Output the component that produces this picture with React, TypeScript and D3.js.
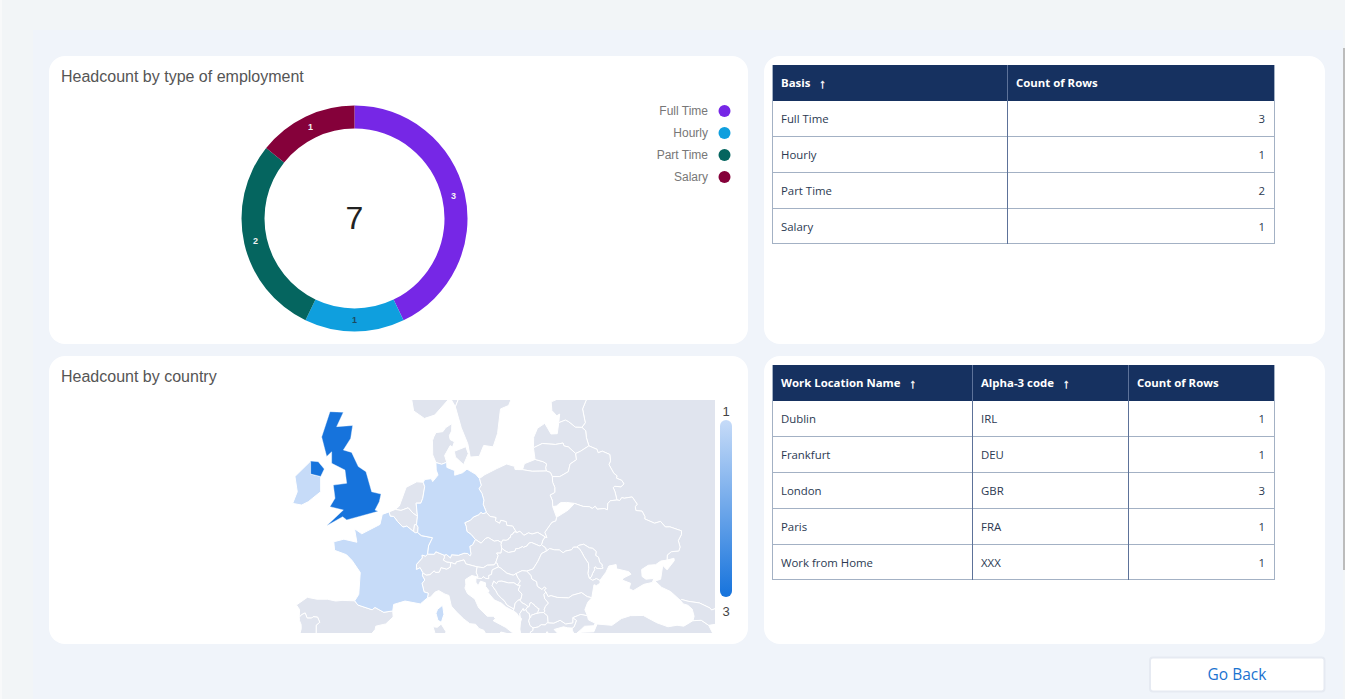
import * as d3 from "d3";
import React from "react";

type LonLat = [number, number];

// employment
const basisNames = ["Full Time", "Hourly", "Part Time", "Salary"];
const basisCounts = [3, 1, 2, 1];
const basisColors = ["#7627e6", "#0f9fde", "#05655f", "#85013a"];
const totalCount = 7;

// locations table
const locationNames = ["Dublin", "Frankfurt", "London", "Paris", "Work from Home"];
const locationCodes = ["IRL", "DEU", "GBR", "FRA", "XXX"];
const locationCounts = [1, 1, 3, 1, 1];

// headcount shown on the map, ISO code -> value
const countryHeadcount: Record<string, number> = { IRL: 1, DEU: 1, GBR: 3, FRA: 1 };
const legendTicks = [1, 3];

// country outlines, lon/lat
const gbrIsland: LonLat[] = [[-5.08,58.54],[-3.36,58.5],[-4.22,57.52],[-2.16,57.6],[-2.42,56.7],[-3.36,55.87],[-2.29,55.7],[-1.44,54.66],[-0.45,54.28],[0.28,52.74],[1.48,52.57],[1.26,51.96],[0.71,51.3],[1.13,51.2],[-2.93,50.5],[-3.45,50.76],[-5.5,50.02],[-3.36,51.3],[-5.08,51.57],[-4.43,52.24],[-4.65,53.26],[-2.93,53.4],[-3.15,54.4],[-4.86,54.9],[-4.86,55.74],[-5.5,55.4],[-6.15,56.8]];
const gbrNorthernIreland: LonLat[] = [[-7.56,55.07],[-6.58,55.02],[-5.81,54.48],[-6.27,53.92],[-7.56,54.1]];
const irl: LonLat[] = [[-9.58,53.92],[-7.65,55.02],[-7.56,55.07],[-7.56,54.1],[-6.27,53.92],[-6.27,52.75],[-7.87,51.96],[-8.72,51.7],[-9.87,51.83],[-9.28,52.75]];
const fra: LonLat[] = [[3.59,50.38],[4.29,49.91],[4.8,49.99],[5.67,49.53],[5.9,49.44],[6.19,49.46],[6.66,49.2],[8.1,49.02],[7.59,48.33],[7.47,47.62],[7.19,47.45],[6.74,47.54],[6.77,47.29],[6.04,46.73],[6.02,46.27],[6.5,46.43],[6.84,45.99],[6.8,45.71],[7.1,45.33],[6.75,45.03],[7.01,44.25],[7.55,44.13],[7.44,43.69],[6.53,43.13],[4.56,43.4],[3.1,43.08],[2.99,42.47],[1.83,42.34],[0.7,42.8],[0.34,42.58],[-1.5,43.03],[-1.9,43.42],[-1.38,44.02],[-1.19,46.01],[-2.23,47.06],[-2.96,47.57],[-4.49,47.95],[-4.59,48.68],[-3.3,48.9],[-1.62,48.64],[-1.93,49.78],[-0.99,49.35],[1.34,50.13],[1.64,50.95],[2.51,51.15],[2.66,50.8],[3.12,50.78]];
const fraCorsica: LonLat[] = [[9.56,42.15],[9.23,41.38],[8.78,41.58],[8.54,42.26],[8.75,42.63],[9.39,43.01]];
const deu: LonLat[] = [[9.92,54.98],[9.94,54.6],[10.95,54.36],[10.94,54.01],[11.96,54.2],[12.52,54.47],[13.65,54.08],[14.12,53.76],[14.35,53.25],[14.07,52.98],[14.44,52.62],[14.69,52.09],[14.61,51.75],[15.02,51.11],[14.57,51],[14.31,51.12],[14.06,50.93],[13.34,50.73],[12.97,50.48],[12.24,50.27],[12.42,49.97],[12.52,49.55],[13.03,49.31],[13.6,48.88],[13.24,48.42],[12.88,48.29],[13.03,47.64],[12.93,47.47],[12.62,47.67],[12.14,47.7],[11.43,47.52],[10.54,47.57],[10.4,47.3],[9.9,47.58],[9.59,47.53],[8.52,47.83],[8.32,47.61],[7.47,47.62],[7.59,48.33],[8.1,49.02],[6.66,49.2],[6.19,49.46],[6.24,49.9],[6.04,50.13],[6.16,50.8],[5.99,51.85],[6.59,51.85],[6.84,52.23],[7.09,53.14],[6.91,53.48],[7.1,53.69],[7.94,53.75],[8.12,53.53],[8.8,54.02],[8.57,54.4],[8.53,54.96],[9.28,54.83]];
const nld: LonLat[] = [[6.07,53.51],[6.91,53.48],[7.09,53.14],[6.84,52.23],[6.59,51.85],[5.99,51.85],[6.16,50.8],[5.61,51.04],[4.97,51.48],[4.05,51.27],[3.31,51.35],[3.83,51.62],[4.71,53.09]];
const bel: LonLat[] = [[3.31,51.35],[4.05,51.27],[4.97,51.48],[5.61,51.04],[6.16,50.8],[6.04,50.13],[5.78,50.09],[5.67,49.53],[4.8,49.99],[4.29,49.91],[3.59,50.38],[3.12,50.78],[2.66,50.8],[2.51,51.15]];
const lux: LonLat[] = [[6.04,50.13],[6.24,49.9],[6.19,49.46],[5.9,49.44],[5.67,49.53],[5.78,50.09]];
const che: LonLat[] = [[9.59,47.53],[9.63,47.35],[9.48,47.1],[9.93,46.92],[10.44,46.89],[10.36,46.48],[9.92,46.31],[9.18,46.44],[8.97,46.04],[8.49,46.01],[8.32,46.16],[7.76,45.82],[7.27,45.78],[6.84,45.99],[6.5,46.43],[6.02,46.27],[6.04,46.73],[6.77,47.29],[6.74,47.54],[7.19,47.45],[7.47,47.62],[8.32,47.61],[8.52,47.83]];
const ita: LonLat[] = [[12.38,46.77],[13.81,46.51],[13.7,46.02],[13.94,45.59],[13.14,45.74],[12.33,45.38],[12.38,44.89],[12.26,44.6],[12.59,44.09],[13.53,43.59],[14.03,42.76],[15.14,41.96],[15.93,41.96],[16.17,41.74],[15.89,41.54],[16.79,41.18],[17.52,40.88],[18.38,40.36],[18.48,40.17],[18.29,39.81],[17.74,40.28],[16.87,40.44],[16.45,39.8],[17.17,39.42],[17.05,38.9],[16.64,38.84],[16.1,37.99],[15.68,37.91],[15.69,38.21],[15.89,38.75],[16.11,38.96],[15.72,39.54],[15.41,40.05],[15,40.17],[14.7,40.6],[14.06,40.79],[13.63,41.19],[12.89,41.25],[12.11,41.7],[11.19,42.36],[10.51,42.93],[10.2,43.92],[9.7,44.04],[8.89,44.37],[8.43,44.23],[7.85,43.77],[7.44,43.69],[7.55,44.13],[7.01,44.25],[6.75,45.03],[7.1,45.33],[6.8,45.71],[6.84,45.99],[7.27,45.78],[7.76,45.82],[8.32,46.16],[8.49,46.01],[8.97,46.04],[9.18,46.44],[9.92,46.31],[10.36,46.48],[10.44,46.89],[11.05,46.75],[11.16,46.94],[12.15,47.12]];
const itaSardinia: LonLat[] = [[9.21,41.21],[9.81,40.5],[9.67,39.18],[9.21,39.24],[8.81,38.91],[8.43,39.17],[8.39,40.38],[8.16,40.95],[8.71,40.9]];
const esp: LonLat[] = [[-9.03,41.88],[-8.98,42.59],[-9.39,43.03],[-7.98,43.75],[-6.75,43.57],[-5.41,43.57],[-4.35,43.4],[-3.52,43.46],[-1.9,43.42],[-1.5,43.03],[0.34,42.58],[0.7,42.8],[1.83,42.34],[2.99,42.47],[3.04,41.89],[2.09,41.23],[0.81,41.01],[0.72,40.68],[0.11,40.12],[-0.28,39.31],[0.11,38.74],[-0.47,38.29],[-0.68,37.64],[-1.44,37.44],[-2.15,36.67],[-3.42,36.66],[-4.37,36.68],[-5,36.32],[-5.38,35.95],[-5.87,36.03],[-6.24,36.37],[-6.52,36.94],[-7.45,37.1],[-7.54,37.43],[-7.17,37.8],[-7.03,38.08],[-7.37,38.37],[-7.1,39.03],[-7.5,39.63],[-7.07,39.71],[-7.03,40.18],[-6.86,40.33],[-6.85,41.11],[-6.39,41.38],[-6.67,41.88],[-7.25,41.92],[-7.42,41.79],[-8.01,41.79],[-8.26,42.28],[-8.67,42.13]];
const prt: LonLat[] = [[-9.03,41.88],[-8.67,42.13],[-8.26,42.28],[-8.01,41.79],[-7.42,41.79],[-7.25,41.92],[-6.67,41.88],[-6.39,41.38],[-6.85,41.11],[-6.86,40.33],[-7.03,40.18],[-7.07,39.71],[-7.5,39.63],[-7.1,39.03],[-7.37,38.37],[-7.03,38.08],[-7.17,37.8],[-7.54,37.43],[-7.45,37.1],[-7.86,36.84],[-8.38,36.98],[-8.9,36.87],[-8.75,37.65],[-8.84,38.27],[-9.29,38.36],[-9.53,38.74],[-9.45,39.39],[-9.05,39.76],[-8.98,40.16],[-8.77,40.76],[-8.79,41.18],[-8.99,41.54]];
const dnkZealand: LonLat[] = [[12.69,55.61],[12.09,54.8],[11.04,55.36],[10.9,55.78],[12.37,56.11]];
const dnkJutland: LonLat[] = [[10.91,56.46],[10.67,56.08],[10.37,56.19],[9.65,55.47],[9.92,54.98],[9.28,54.83],[8.53,54.96],[8.12,55.52],[8.09,56.54],[8.26,56.81],[8.54,57.11],[9.42,57.17],[9.78,57.45],[10.58,57.73],[10.55,57.22],[10.25,56.89],[10.37,56.61]];
const swe: LonLat[] = [[11.03,58.86],[11.47,59.43],[12.3,60.12],[12.63,61.29],[11.99,61.8],[20,63],[17.85,62.75],[17.12,61.34],[17.83,60.64],[18.79,60.08],[17.87,58.95],[16.83,58.72],[16.45,57.04],[15.88,56.1],[14.67,56.2],[14.1,55.41],[12.94,55.36],[12.63,56.31],[11.79,57.44]];
const nor: LonLat[] = [[11.03,58.86],[10.36,59.47],[8.38,58.31],[7.05,58.08],[5.67,58.59],[5.31,59.66],[4.99,61.97],[8,63.5],[11.93,63.13],[11.99,61.8],[12.63,61.29],[12.3,60.12],[11.47,59.43]];
const pol: LonLat[] = [[15.02,51.11],[14.61,51.75],[14.69,52.09],[14.44,52.62],[14.07,52.98],[14.35,53.25],[14.12,53.76],[14.8,54.05],[16.36,54.51],[17.62,54.85],[18.62,54.68],[18.7,54.44],[19.66,54.43],[20.89,54.31],[22.73,54.33],[23.24,54.22],[23.48,53.91],[23.53,53.47],[23.8,53.09],[23.8,52.69],[23.2,52.49],[23.51,52.02],[23.53,51.58],[24.03,50.71],[23.92,50.42],[23.43,50.31],[22.52,49.48],[22.78,49.03],[22.56,49.09],[21.61,49.47],[20.89,49.33],[20.42,49.43],[19.83,49.22],[19.32,49.57],[18.91,49.44],[18.85,49.5],[18.39,49.99],[17.65,50.05],[17.55,50.36],[16.87,50.47],[16.72,50.22],[16.18,50.42],[16.24,50.7],[15.49,50.78]];
const cze: LonLat[] = [[15.02,51.11],[15.49,50.78],[16.24,50.7],[16.18,50.42],[16.72,50.22],[16.87,50.47],[17.55,50.36],[17.65,50.05],[18.39,49.99],[18.85,49.5],[18.55,49.5],[18.4,49.32],[18.17,49.27],[18.1,49.04],[17.91,49],[17.89,48.9],[17.55,48.8],[17.1,48.82],[16.96,48.6],[16.5,48.79],[16.03,48.73],[15.25,49.04],[14.9,48.96],[14.34,48.56],[13.6,48.88],[13.03,49.31],[12.52,49.55],[12.42,49.97],[12.24,50.27],[12.97,50.48],[13.34,50.73],[14.06,50.93],[14.31,51.12],[14.57,51]];
const svk: LonLat[] = [[18.85,49.5],[18.91,49.44],[19.32,49.57],[19.83,49.22],[20.42,49.43],[20.89,49.33],[21.61,49.47],[22.56,49.09],[22.28,48.83],[22.09,48.42],[21.87,48.32],[20.8,48.62],[20.47,48.56],[20.24,48.33],[19.77,48.2],[19.66,48.27],[19.17,48.11],[18.78,48.08],[18.7,47.88],[17.86,47.76],[17.49,47.87],[16.98,48.12],[16.88,48.47],[16.96,48.6],[17.1,48.82],[17.55,48.8],[17.89,48.9],[17.91,49],[18.1,49.04],[18.17,49.27],[18.4,49.32],[18.55,49.5]];
const aut: LonLat[] = [[16.98,48.12],[16.9,47.71],[16.34,47.71],[16.53,47.5],[16.2,46.85],[16.01,46.68],[15.14,46.66],[14.63,46.43],[13.81,46.51],[12.38,46.77],[12.15,47.12],[11.16,46.94],[11.05,46.75],[10.44,46.89],[9.93,46.92],[9.48,47.1],[9.63,47.35],[9.59,47.53],[9.9,47.58],[10.4,47.3],[10.54,47.57],[11.43,47.52],[12.14,47.7],[12.62,47.67],[12.93,47.47],[13.03,47.64],[12.88,48.29],[13.24,48.42],[13.6,48.88],[14.34,48.56],[14.9,48.96],[15.25,49.04],[16.03,48.73],[16.5,48.79],[16.96,48.6],[16.88,48.47]];
const hun: LonLat[] = [[16.2,46.85],[16.53,47.5],[16.34,47.71],[16.9,47.71],[16.98,48.12],[17.49,47.87],[17.86,47.76],[18.7,47.88],[18.78,48.08],[19.17,48.11],[19.66,48.27],[19.77,48.2],[20.24,48.33],[20.47,48.56],[20.8,48.62],[21.87,48.32],[22.09,48.42],[22.64,48.15],[22.71,47.88],[22.1,47.67],[21.63,46.99],[21.02,46.32],[20.22,46.13],[19.6,46.17],[18.83,45.91],[18.46,45.76],[17.63,45.95],[16.88,46.38],[16.56,46.5],[16.37,46.84]];
const svn: LonLat[] = [[13.81,46.51],[14.63,46.43],[15.14,46.66],[16.01,46.68],[16.2,46.85],[16.37,46.84],[16.56,46.5],[15.77,46.24],[15.67,45.83],[15.32,45.73],[15.33,45.45],[14.94,45.47],[14.6,45.63],[14.41,45.47],[13.72,45.5],[13.94,45.59],[13.7,46.02]];
const hrv: LonLat[] = [[18.83,45.91],[19.07,45.52],[19.39,45.24],[19.01,44.86],[18.55,45.08],[17.86,45.07],[17,45.23],[16.53,45.21],[16.32,45],[15.96,45.23],[15.75,44.82],[16.24,44.35],[16.46,44.04],[16.92,43.67],[17.3,43.45],[17.67,43.03],[18.56,42.65],[18.45,42.48],[17.51,42.85],[16.93,43.21],[16.02,43.51],[15.17,44.24],[15.38,44.32],[14.92,44.74],[14.9,45.08],[14.26,45.23],[13.95,44.8],[13.66,45.14],[13.68,45.48],[13.72,45.5],[14.41,45.47],[14.6,45.63],[14.94,45.47],[15.33,45.45],[15.32,45.73],[15.67,45.83],[15.77,46.24],[16.56,46.5],[16.88,46.38],[17.63,45.95],[18.46,45.76]];
const bih: LonLat[] = [[19.01,44.86],[19.37,44.86],[19.12,44.42],[19.6,44.04],[19.45,43.57],[19.22,43.52],[19.03,43.43],[18.71,43.2],[18.56,42.65],[17.67,43.03],[17.3,43.45],[16.92,43.67],[16.46,44.04],[16.24,44.35],[15.75,44.82],[15.96,45.23],[16.32,45],[16.53,45.21],[17,45.23],[17.86,45.07],[18.55,45.08]];
const srb: LonLat[] = [[20.87,45.42],[21.48,45.18],[21.56,44.77],[22.15,44.48],[22.46,44.7],[22.71,44.58],[22.47,44.41],[22.66,44.23],[22.41,44.01],[22.5,43.64],[22.99,43.21],[22.6,42.9],[22.44,42.58],[22.55,42.46],[22.38,42.32],[21.92,42.3],[21.58,42.25],[21.54,42.32],[21.66,42.44],[21.78,42.68],[21.63,42.68],[21.44,42.86],[21.27,42.91],[21.14,43.07],[20.96,43.13],[20.81,43.27],[20.64,43.22],[20.5,42.88],[20.26,42.81],[20.34,42.9],[19.96,43.11],[19.63,43.21],[19.48,43.35],[19.22,43.52],[19.45,43.57],[19.6,44.04],[19.12,44.42],[19.37,44.86],[19.01,44.86],[19.39,45.24],[19.07,45.52],[18.83,45.91],[19.6,46.17],[20.22,46.13],[20.76,45.73]];
const rou: LonLat[] = [[22.71,47.88],[23.14,48.1],[23.76,47.99],[24.4,47.98],[24.87,47.74],[25.21,47.89],[25.95,47.99],[26.2,48.22],[26.62,48.22],[26.92,48.12],[27.23,47.83],[27.55,47.41],[28.13,46.81],[28.16,46.37],[28.05,45.94],[28.23,45.49],[28.68,45.3],[29.15,45.46],[29.6,45.29],[29.63,45.04],[29.14,44.82],[28.84,44.91],[28.56,43.71],[27.97,43.81],[27.24,44.18],[26.07,43.94],[25.57,43.69],[24.1,43.74],[23.33,43.9],[22.94,43.82],[22.66,44.23],[22.47,44.41],[22.71,44.58],[22.46,44.7],[22.15,44.48],[21.56,44.77],[21.48,45.18],[20.87,45.42],[20.76,45.73],[20.22,46.13],[21.02,46.32],[21.63,46.99],[22.1,47.67]];
const bgr: LonLat[] = [[22.66,44.23],[22.94,43.82],[23.33,43.9],[24.1,43.74],[25.57,43.69],[26.07,43.94],[27.24,44.18],[27.97,43.81],[28.56,43.71],[28.04,43.29],[27.67,42.58],[28,42.01],[27.14,42.14],[26.12,41.83],[26.11,41.33],[25.2,41.23],[24.49,41.58],[23.69,41.31],[22.95,41.34],[22.88,42],[22.38,42.32],[22.55,42.46],[22.44,42.58],[22.6,42.9],[22.99,43.21],[22.5,43.64],[22.41,44.01]];
const mda: LonLat[] = [[26.62,48.22],[26.86,48.37],[27.52,48.47],[28.26,48.16],[28.67,48.12],[29.12,47.85],[29.05,47.51],[29.42,47.35],[29.56,46.93],[29.91,46.67],[29.84,46.53],[30.02,46.42],[29.76,46.35],[29.17,46.38],[29.07,46.52],[28.86,46.44],[28.93,46.26],[28.66,45.94],[28.49,45.6],[28.23,45.49],[28.05,45.94],[28.16,46.37],[28.13,46.81],[27.55,47.41],[27.23,47.83],[26.92,48.12]];
const ukr: LonLat[] = [[31.79,52.1],[32.16,52.06],[32.41,52.29],[32.72,52.24],[33.75,52.34],[34.39,51.77],[34.14,51.57],[34.22,51.26],[35.02,51.21],[35.38,50.77],[35.36,50.58],[36.63,50.23],[37.39,50.38],[38.01,49.92],[38.59,49.93],[40.07,49.6],[40.08,49.31],[39.67,48.78],[39.9,48.23],[39.74,47.9],[38.77,47.83],[38.26,47.55],[38.22,47.1],[37.43,47.02],[36.76,46.7],[35.82,46.65],[34.96,46.27],[35.02,45.65],[35.51,45.41],[36.53,45.47],[36.33,45.11],[35.24,44.94],[33.88,44.36],[33.33,44.56],[33.55,45.03],[32.45,45.33],[32.63,45.52],[33.59,45.85],[33.3,46.08],[31.74,46.33],[31.68,46.71],[30.75,46.58],[30.38,46.03],[29.6,45.29],[29.15,45.46],[28.68,45.3],[28.23,45.49],[28.49,45.6],[28.66,45.94],[28.93,46.26],[28.86,46.44],[29.07,46.52],[29.17,46.38],[29.76,46.35],[30.02,46.42],[29.84,46.53],[29.91,46.67],[29.56,46.93],[29.42,47.35],[29.05,47.51],[29.12,47.85],[28.67,48.12],[28.26,48.16],[27.52,48.47],[26.86,48.37],[26.62,48.22],[26.2,48.22],[25.95,47.99],[25.21,47.89],[24.87,47.74],[24.4,47.98],[23.76,47.99],[23.14,48.1],[22.71,47.88],[22.64,48.15],[22.09,48.42],[22.28,48.83],[22.56,49.09],[22.78,49.03],[22.52,49.48],[23.43,50.31],[23.92,50.42],[24.03,50.71],[25.53,51.3],[26.34,51.83],[27.45,51.59],[28.24,51.57],[28.62,51.43],[28.99,51.6],[29.25,51.37],[30.16,51.42],[30.56,51.32],[30.62,51.82],[30.93,52.04]];
const blr: LonLat[] = [[23.48,53.91],[24.45,53.91],[25.54,54.28],[25.77,54.85],[26.59,55.17],[26.49,55.62],[27.1,55.78],[28.18,56.17],[29.23,55.92],[29.37,55.67],[29.9,55.79],[30.87,55.55],[30.97,55.08],[30.76,54.81],[31.38,54.16],[31.79,53.97],[31.73,53.79],[32.41,53.62],[32.69,53.35],[32.3,53.13],[31.5,53.17],[31.31,53.07],[31.54,52.74],[31.79,52.1],[30.93,52.04],[30.62,51.82],[30.56,51.32],[30.16,51.42],[29.25,51.37],[28.99,51.6],[28.62,51.43],[28.24,51.57],[27.45,51.59],[26.34,51.83],[25.33,51.91],[24.55,51.89],[24.01,51.62],[23.53,51.58],[23.51,52.02],[23.2,52.49],[23.8,52.69],[23.8,53.09],[23.53,53.47]];
const ltu: LonLat[] = [[22.73,54.33],[22.65,54.58],[22.76,54.86],[22.32,55.02],[21.27,55.19],[21.06,56.03],[22.2,56.34],[23.88,56.27],[24.86,56.37],[25,56.16],[25.53,56.1],[26.49,55.62],[26.59,55.17],[25.77,54.85],[25.54,54.28],[24.45,53.91],[23.48,53.91],[23.24,54.22]];
const lva: LonLat[] = [[21.06,56.03],[21.09,56.78],[21.58,57.41],[22.52,57.75],[23.32,57.01],[24.12,57.03],[24.31,57.79],[25.16,57.97],[25.6,57.85],[26.46,57.48],[27.29,57.47],[27.77,57.24],[27.86,56.76],[28.18,56.17],[27.1,55.78],[26.49,55.62],[25.53,56.1],[25,56.16],[24.86,56.37],[23.88,56.27],[22.2,56.34]];
const est: LonLat[] = [[24.31,57.79],[24.43,58.38],[24.06,58.26],[23.43,58.61],[23.34,59.19],[24.6,59.47],[25.86,59.61],[26.95,59.45],[27.98,59.48],[27.37,58.72],[27.72,57.79],[27.29,57.47],[26.46,57.48],[25.6,57.85],[25.16,57.97]];
const rusKaliningrad: LonLat[] = [[22.73,54.33],[20.89,54.31],[19.66,54.43],[19.89,54.87],[21.27,55.19],[22.32,55.02],[22.76,54.86],[22.65,54.58]];
const rus: LonLat[] = [[27.98,59.48],[30,60],[29,61],[31,62.5],[46,62.5],[46,42.6],[44.54,42.71],[43.93,42.56],[43.76,42.74],[42.39,43.22],[40.92,43.38],[40.08,43.55],[39.96,43.44],[38.68,44.28],[37.54,44.66],[36.68,45.24],[37.4,45.4],[37.67,46.64],[38.23,46.24],[39.15,47.05],[39.12,47.26],[38.22,47.1],[38.26,47.55],[38.77,47.83],[39.74,47.9],[39.9,48.23],[39.67,48.78],[40.08,49.31],[40.07,49.6],[38.59,49.93],[38.01,49.92],[37.39,50.38],[36.63,50.23],[35.36,50.58],[35.38,50.77],[35.02,51.21],[34.22,51.26],[34.14,51.57],[34.39,51.77],[33.75,52.34],[32.72,52.24],[32.41,52.29],[32.16,52.06],[31.79,52.1],[31.54,52.74],[31.31,53.07],[31.5,53.17],[32.3,53.13],[32.69,53.35],[32.41,53.62],[31.73,53.79],[31.79,53.97],[31.38,54.16],[30.76,54.81],[30.97,55.08],[30.87,55.55],[29.9,55.79],[29.37,55.67],[29.23,55.92],[28.18,56.17],[27.86,56.76],[27.77,57.24],[27.29,57.47],[27.72,57.79],[27.37,58.72]];
const geo: LonLat[] = [[39.96,43.44],[40.08,43.55],[40.92,43.38],[42.39,43.22],[43.76,42.74],[43.93,42.56],[44.54,42.71],[45.47,42.5],[45.78,42.09],[46.4,41.86],[46.15,41.72],[46.64,41.18],[46.5,41.06],[45.96,41.12],[45.22,41.41],[44.97,41.25],[43.58,41.09],[42.62,41.58],[41.55,41.54],[41.7,41.96],[41.45,42.65],[40.88,43.01],[40.32,43.13]];
const turAsia: LonLat[] = [[36.91,41.34],[38.35,40.95],[39.51,41.1],[40.37,41.01],[41.55,41.54],[42.62,41.58],[43.58,41.09],[44.5,39.7],[44.5,38],[26.3,38],[26.17,39.46],[27.28,40.42],[28.82,40.46],[29.24,41.22],[31.15,41.09],[32.35,41.74],[33.51,42.02],[35.17,42.04]];
const turEurope: LonLat[] = [[26.06,40.82],[26.29,40.94],[26.6,41.56],[26.12,41.83],[27.14,42.14],[28,42.01],[28.12,41.62],[28.99,41.3],[28.81,41.05],[27.62,41],[27.19,40.69],[26.36,40.15],[26.04,40.62]];
const grc: LonLat[] = [[20.15,39.63],[20.62,40.11],[20.68,40.44],[21,40.58],[21.02,40.84],[21.67,40.93],[22.06,41.15],[22.6,41.13],[22.76,41.31],[22.95,41.34],[23.69,41.31],[24.49,41.58],[25.2,41.23],[26.11,41.33],[26.12,41.83],[26.6,41.56],[26.29,40.94],[26.06,40.82],[25.45,40.85],[24.93,40.95],[23.72,40.69],[24.41,40.13],[23.9,39.96],[23.34,39.96],[22.81,40.48],[22.63,40.26],[22.85,39.66],[23.35,39.19],[22.97,38.97],[23.53,38.51],[23,38],[21.1,38.3]];
const alb: LonLat[] = [[20.59,41.86],[20.46,41.52],[20.61,41.09],[21.02,40.84],[21,40.58],[20.68,40.44],[20.62,40.11],[20.15,39.63],[19.98,39.7],[19.96,39.92],[19.41,40.25],[19.32,40.73],[19.4,41.41],[19.54,41.72],[19.37,41.88],[19.3,42.2],[19.74,42.69],[19.8,42.5],[20.07,42.59],[20.28,42.32],[20.52,42.22]];
const mkd: LonLat[] = [[20.59,41.86],[20.72,41.85],[20.76,42.05],[21.35,42.21],[21.92,42.3],[22.38,42.32],[22.88,42],[22.95,41.34],[22.76,41.31],[22.6,41.13],[22.06,41.15],[21.67,40.93],[21.02,40.84],[20.61,41.09],[20.46,41.52]];
const mne: LonLat[] = [[19.8,42.5],[19.74,42.69],[19.3,42.2],[19.37,41.88],[19.16,41.96],[18.88,42.28],[18.45,42.48],[18.56,42.65],[18.71,43.2],[19.03,43.43],[19.22,43.52],[19.48,43.35],[19.63,43.21],[19.96,43.11],[20.34,42.9],[20.26,42.81],[20.07,42.59]];
const kos: LonLat[] = [[20.72,41.85],[20.59,41.86],[20.52,42.22],[20.28,42.32],[20.07,42.59],[20.26,42.81],[20.5,42.88],[20.64,43.22],[20.81,43.27],[20.96,43.13],[21.14,43.07],[21.27,42.91],[21.44,42.86],[21.63,42.68],[21.78,42.68],[21.66,42.44],[21.54,42.32],[21.58,42.25],[21.35,42.21],[20.76,42.05]];

const countries: [string, LonLat[]][] = [
  ["RUS", rus], ["RUS", rusKaliningrad], ["NOR", nor], ["SWE", swe], ["DNK", dnkJutland], ["DNK", dnkZealand],
  ["EST", est], ["LVA", lva], ["LTU", ltu], ["BLR", blr], ["UKR", ukr], ["MDA", mda], ["POL", pol],
  ["CZE", cze], ["SVK", svk], ["AUT", aut], ["HUN", hun], ["SVN", svn], ["HRV", hrv], ["BIH", bih],
  ["SRB", srb], ["KOS", kos], ["MNE", mne], ["ALB", alb], ["MKD", mkd], ["GRC", grc], ["ROU", rou],
  ["BGR", bgr], ["TUR", turAsia], ["TUR", turEurope], ["GEO", geo], ["ESP", esp], ["PRT", prt],
  ["ITA", ita], ["ITA", itaSardinia], ["CHE", che], ["NLD", nld], ["BEL", bel], ["LUX", lux],
  ["FRA", fra], ["FRA", fraCorsica], ["DEU", deu], ["IRL", irl], ["GBR", gbrIsland], ["GBR", gbrNorthernIreland],
];

const tableFont = "'Open Sans', 'Noto Sans', sans-serif";
const chartFont = "'Liberation Sans', Arial, sans-serif";
const tableFontSize = 11.4;

type TableProps = {
  x: number;
  y: number;
  columns: number[];
  headers: string[];
  sorted: boolean[];
  rows: (string | number)[][];
  lineColor: string;
};

const DataTable: React.FC<TableProps> = ({ x, y, columns, headers, sorted, rows, lineColor }) => {
  const rowH = 36;
  const right = columns[columns.length - 1];
  const lefts = columns.slice(0, -1);
  const bottom = y + rowH * (rows.length + 1) - 1;
  return (
    <g fontFamily={tableFont} fontSize={tableFontSize}>
      <rect x={x} y={y} width={right - x} height={rowH} fill="#163160" />
      {rows.map((_, i) => (
        <line key={i} x1={x} x2={right} y1={y + rowH * (i + 2) - 0.5 - (i === rows.length - 1 ? 1 : 0)} y2={y + rowH * (i + 2) - 0.5 - (i === rows.length - 1 ? 1 : 0)} stroke="#a3b1c4" />
      ))}
      {[x, ...lefts.slice(1), right].map((lx, i) => (
        <line key={i} x1={lx + 0.5} x2={lx + 0.5} y1={y} y2={bottom} stroke={i === 0 || lx === right ? "#a3b1c4" : lineColor} />
      ))}
      {headers.map((h, i) => (
        <g key={h}>
          <text x={lefts[i] + 9} y={y + 17} dominantBaseline="central" fill="#fff" fontWeight={700}>{h}</text>
          {sorted[i] && <SortArrow x={lefts[i] + 9} y={y + 18} label={h} />}
        </g>
      ))}
      {rows.map((row, r) =>
        row.map((v, c) => (
          <text
            key={c}
            x={typeof v === "number" ? right - 9 : lefts[c] + 9}
            y={y + rowH * (r + 1) + 17}
            dominantBaseline="central"
            textAnchor={typeof v === "number" ? "end" : "start"}
            fill="#2b3a52"
          >
            {v}
          </text>
        ))
      )}
    </g>
  );
};

// arrow sits just after the header label, so measure the label first
const SortArrow: React.FC<{ x: number; y: number; label: string }> = ({ x, y, label }) => {
  const ref = React.useRef<SVGTextElement>(null);
  React.useEffect(() => {
    const c = document.createElement("canvas").getContext("2d");
    if (!c || !ref.current) return;
    c.font = `700 ${tableFontSize}px ${tableFont}`;
    ref.current.setAttribute("x", String(x + c.measureText(label).width + 9));
  }, []);
  return <text ref={ref} x={x} y={y} dominantBaseline="central" fill="#fff" stroke="#fff" strokeWidth={0.4} fontSize={13} fontWeight={700}>↑</text>;
};

export default function App() {
  const cx = 354.5;
  const cy = 218.5;
  const pie = d3.pie<number>().sort(null)(basisCounts);
  const arc = d3.arc<d3.PieArcDatum<number>>().innerRadius(90).outerRadius(113);

  const legendY = d3.scalePoint<string>().domain(basisNames).range([111, 177]);

  const projection = d3.geoMercator().scale(446).center([0, 50]).translate([369.5, 526]);
  const line = d3.line().curve(d3.curveLinearClosed);
  const toPath = (ring: LonLat[]) => line(ring.map((p) => projection(p) as [number, number])) as string;
  const colorScale = d3.scaleLinear<string>().domain(legendTicks).range(["#c6dbf8", "#1673dc"]);

  const basisRows = basisNames.map((n, i) => [n, basisCounts[i]]);
  const locationRows = locationNames.map((n, i) => [n, locationCodes[i], locationCounts[i]]);

  return (
    <svg width={1345} height={699} style={{ position: "fixed", left: 0, top: 0, display: "block" }}>
      <defs>
        <clipPath id="map-clip"><rect x={280} y={400} width={435} height={233} /></clipPath>
        <linearGradient id="legend-grad" x1="0" x2="0" y1="0" y2="1">
          <stop offset="0%" stopColor={colorScale(1)} />
          <stop offset="100%" stopColor={colorScale(3)} />
        </linearGradient>
        <filter id="soft"><feGaussianBlur stdDeviation="0.35" /></filter>
      </defs>

      <rect width={1345} height={699} fill="#f2f5f7" />
      <rect width={2} height={699} fill="#f8f9fa" />
      <rect x={33} y={30} width={1310} height={669} fill="#f0f4fa" />
      <rect x={1343} y={48} width={2} height={522} fill="#bcbcbc" />

      {/* cards */}
      <rect x={49} y={56} width={699} height={288} rx={16} fill="#fff" />
      <rect x={764} y={56} width={561} height={288} rx={16} fill="#fff" />
      <rect x={49} y={356} width={699} height={288} rx={16} fill="#fff" />
      <rect x={764} y={356} width={561} height={288} rx={16} fill="#fff" />

      <text x={61} y={82} fontFamily={chartFont} fontSize={16} fill="#555">Headcount by type of employment</text>
      <text x={61} y={382} fontFamily={chartFont} fontSize={16} fill="#555">Headcount by country</text>

      {/* donut */}
      <g transform={`translate(${cx},${cy})`}>
        {pie.map((d, i) => (
          <path key={i} d={arc(d) as string} fill={basisColors[i]} />
        ))}
        {pie.map((d, i) => {
          const [lx, ly] = arc.centroid(d);
          return (
            <text key={i} x={lx} y={ly} textAnchor="middle" dominantBaseline="central" fontFamily={chartFont} fontSize={9} fontWeight={700} fill={i === 1 ? "#1d4a5e" : "#f2f2f2"}>
              {d.data}
            </text>
          );
        })}
        <text y={-1} textAnchor="middle" dominantBaseline="central" fontFamily={chartFont} fontSize={32} fill="#222">{totalCount}</text>
      </g>

      {/* legend */}
      {basisNames.map((n, i) => (
        <g key={n} fontFamily={chartFont} fontSize={12}>
          <text x={708} y={legendY(n)} textAnchor="end" dominantBaseline="central" fill="#777">{n}</text>
          <circle cx={724.5} cy={legendY(n)} r={6} fill={basisColors[i]} />
        </g>
      ))}

      {/* map */}
      <g clipPath="url(#map-clip)">
        <g filter="url(#soft)">
          {countries.map(([code, ring], i) => (
            <path
              key={i}
              d={toPath(ring)}
              fill={code in countryHeadcount ? colorScale(countryHeadcount[code]) : "#e0e4ee"}
              stroke="#fff"
              strokeWidth={code === "GBR" ? 0.4 : 1}
              strokeLinejoin="round"
            />
          ))}
        </g>
      </g>
      <rect x={720} y={420} width={12} height={177} rx={6} fill="url(#legend-grad)" />
      <text x={726} y={411} textAnchor="middle" dominantBaseline="central" fontFamily={chartFont} fontSize={13} fill="#444">{legendTicks[0]}</text>
      <text x={726} y={611} textAnchor="middle" dominantBaseline="central" fontFamily={chartFont} fontSize={13} fill="#444">{legendTicks[1]}</text>

      <DataTable x={772} y={65} columns={[772, 1007, 1274]} headers={["Basis", "Count of Rows"]} sorted={[true, false]} rows={basisRows} lineColor="#5d7299" />
      <DataTable x={772} y={365} columns={[772, 972, 1128, 1274]} headers={["Work Location Name", "Alpha-3 code", "Count of Rows"]} sorted={[true, true, false]} rows={locationRows} lineColor="#5d7299" />

      {/* button */}
      <rect x={1150} y={657.5} width={174.5} height={34} rx={3} fill="#fff" stroke="#e6eaf2" strokeWidth={2} />
      <text x={1237} y={674} textAnchor="middle" dominantBaseline="central" fontFamily={tableFont} fontSize={15.5} fill="#1a73d0">Go Back</text>
    </svg>
  );
}
